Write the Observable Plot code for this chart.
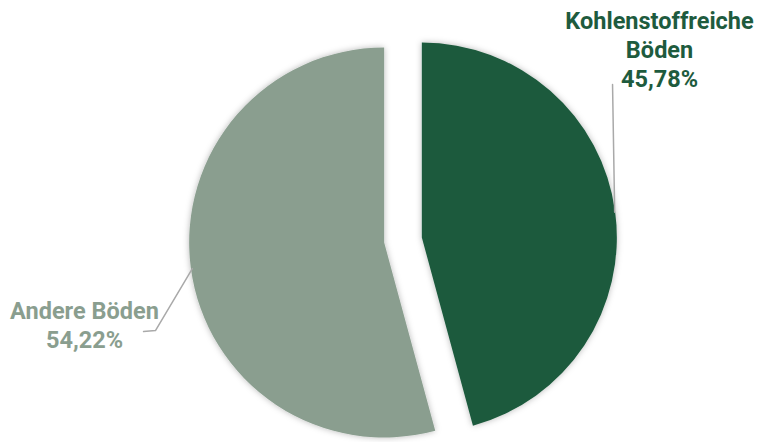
<!DOCTYPE html>
<html><head><meta charset="utf-8">
<script src="https://cdn.jsdelivr.net/npm/d3@7"></script>
<script src="https://cdn.jsdelivr.net/npm/@observablehq/plot@0.6"></script>
<style>body{margin:0;background:#fff} svg{display:block}</style>
</head><body><div id="chart"></div>
<script>
// ---- data ----
const categories = ["Kohlenstoffreiche Böden", "Andere Böden"];
const values = [45.78, 54.22];
const valueLabels = ["45,78%", "54,22%"];
const labelLines = [["Kohlenstoffreiche", "Böden"], ["Andere Böden"]];

// ---- style / layout ----
const colors = ["#1c5a3d", "#8a9e8f"];
const textColors = ["#1e5b3e", "#8a9e8f"];
const W = 762, H = 442, unit = 195, cxPx = 403, cyPx = 240;
const explode = 0.0975;
const labelPos = [[1.313, 0.985], [-1.636, -0.428]];
const leaderTail = [[[1.072, 0.80]], [[-1.272, -0.462], [-1.333, -0.467]]];

const pie = d3.pie().sort(null).value(d => d.value);
const arcs = pie(categories.map((c, i) => ({category: c, value: values[i], i})));
const slices = arcs.map(a => {
  const mid = (a.startAngle + a.endAngle) / 2;
  const ox = explode * Math.sin(mid), oy = explode * Math.cos(mid);
  return {...a, mid, ox, oy, i: a.data.i};
});

const leaders = slices.flatMap(s => {
  const r = 0.995;
  const p0 = {x: s.ox + r * Math.sin(s.mid), y: s.oy + r * Math.cos(s.mid), i: s.i};
  return [p0, ...leaderTail[s.i].map(([x, y]) => ({x, y, i: s.i}))];
});

const labels = slices.map(s => ({
  x: labelPos[s.i][0], y: labelPos[s.i][1], i: s.i,
  text: [...labelLines[s.i], valueLabels[s.i]].join("\n")
}));

function pieMark(index, scales, values, dimensions, context) {
  const g = d3.create("svg:g");
  const defs = g.append("defs");
  const f = defs.append("filter").attr("id", "sh").attr("x", "-20%").attr("y", "-20%").attr("width", "140%").attr("height", "140%");
  f.append("feDropShadow").attr("dx", 0).attr("dy", 0).attr("stdDeviation", 3)
    .attr("flood-color", "#000").attr("flood-opacity", 0.28);
  const R = scales.x(1) - scales.x(0);
  const arc = d3.arc().innerRadius(0).outerRadius(R);
  for (const s of slices) {
    g.append("path")
      .attr("d", arc(s))
      .attr("transform", `translate(${scales.x(s.ox)},${scales.y(s.oy)})`)
      .attr("fill", colors[s.i])
      .attr("filter", "url(#sh)");
  }
  return g.node();
}

const chart = Plot.plot({
  width: W, height: H,
  margin: 0,
  style: {fontFamily: "Roboto, sans-serif", background: "#fff"},
  x: {domain: [-cxPx / unit, (W - cxPx) / unit], axis: null},
  y: {domain: [-(H - cyPx) / unit, cyPx / unit], axis: null},
  marks: [
    pieMark,
    Plot.line(leaders, {x: "x", y: "y", z: "i", stroke: "#a9a9a9", strokeWidth: 1.5}),
    Plot.text(labels, {
      x: "x", y: "y", text: "text",
      fill: d => textColors[d.i],
      fontSize: 23.5, fontWeight: "bold", lineHeight: 1.24,
      textAnchor: "middle", lineAnchor: "middle"
    })
  ]
});
document.getElementById("chart").appendChild(chart);
</script>
</body></html>
